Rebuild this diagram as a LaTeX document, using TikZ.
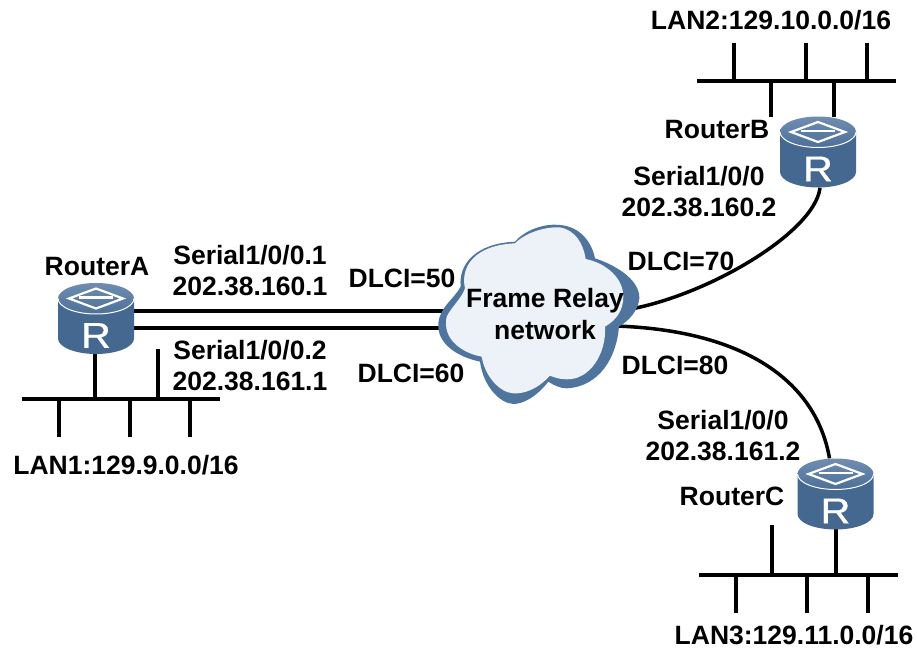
\documentclass[tikz,border=0pt]{standalone}
\usepackage{fontspec}
\setmainfont{Liberation Sans}
\newfontfamily\routerfont[FakeBold=0.6]{Liberation Sans}
\definecolor{rbody}{HTML}{44688F}
\definecolor{rtopa}{HTML}{6F8DB0}
\definecolor{rtopb}{HTML}{4D7098}
\definecolor{cloudd}{HTML}{4F759E}
\definecolor{cloudl}{HTML}{EDF2F9}
\tikzset{
  lbl/.style={font=\bfseries\fontsize{26.5}{31}\selectfont, align=center, inner sep=0pt, text=black},
  wire/.style={draw=black, line width=3.8pt},
  thin wire/.style={draw=black, line width=3.5pt},
  busbar/.style={fill=black, inner sep=0pt, minimum height=4pt},
  routerbox/.style={minimum width=76pt, minimum height=71pt, inner sep=0pt},
  cloudbox/.style={minimum width=200pt, minimum height=180pt, inner sep=0pt},
}
\newcommand{\drawrouter}[1]{%
  \begin{scope}[shift={(#1)}]
    \fill[rbody] (-38,-20) -- (-38,20) arc[start angle=180,end angle=0,x radius=38,y radius=15.5] -- (38,-20) -- cycle;
    \shade[top color=rtopa,bottom color=rtopb] (0,-20) ellipse[x radius=38,y radius=15.5];
    \draw[white,line width=1pt] (-38,-20) arc[start angle=180,end angle=0,x radius=38,y radius=15.5];
    \draw[white,line width=2.2pt] (-27,-20) -- (0,-30) -- (27,-20) -- (0,-10) -- cycle;
    \draw[white,line width=2.2pt] (-17,-21) -- (17,-21);
    \node[text=white,inner sep=0pt,xscale=1.15,font=\routerfont\fontsize{36}{36}\selectfont] at (0,17) {R};
  \end{scope}}
\begin{document}
\begin{tikzpicture}[x=1pt,y=-1pt]
\useasboundingbox (0,0) rectangle (917,647);
\node[routerbox] (routerA) at (96,318.5) {};
\node[routerbox] (routerB) at (818,152) {};
\node[routerbox] (routerC) at (835.5,494) {};
\node[cloudbox] (cloud) at (535,315) {};
\node[busbar,minimum width=198pt] (lan1) at (121,399) {};
\node[busbar,minimum width=199pt] (lan2) at (796.5,81) {};
\node[busbar,minimum width=199pt] (lan3) at (798.5,575) {};
% connectors
\draw[wire] ([yshift=7.5pt]routerA.east) -- ([yshift=4pt,xshift=12pt]cloud.west);
\draw[wire] ([yshift=-9.5pt]routerA.east) -- ([yshift=-13pt,xshift=12pt]cloud.west);
\draw[thin wire] ([xshift=2pt]routerB.south) .. controls +(-5,45) and +(80,-13) .. ([yshift=5pt,xshift=-10pt]cloud.east);
\draw[thin wire] ([xshift=-6pt]routerC.north) .. controls +(-14,-80) and +(125,4) .. ([yshift=-11pt,xshift=-20pt]cloud.east);
% LAN stubs
\foreach \d in {-62,9,69} \draw[thin wire] ([xshift=\d pt]lan1.center) -- ++(0,38);
\draw[thin wire] ([xshift=-26pt]lan1.center) -- ++(0,-46);
\draw[thin wire] ([xshift=37pt]lan1.center) -- ++(0,-50);
\foreach \d in {-62.5,9.5,70.5} \draw[thin wire] ([xshift=\d pt]lan2.center) -- ++(0,-38);
\foreach \d in {-25.5,37.5} \draw[thin wire] ([xshift=\d pt]lan2.center) -- ++(0,36);
\foreach \d in {-62.5,8.5,69.5} \draw[thin wire] ([xshift=\d pt]lan3.center) -- ++(0,38);
\draw[thin wire] ([xshift=-26.5pt]lan3.center) -- ++(0,-50);
\draw[thin wire] ([xshift=37.5pt]lan3.center) -- ++(0,-47);
% routers
\drawrouter{96,318.5}
\drawrouter{818,152}
\drawrouter{835.5,494}
% cloud
\begin{scope}[shift={(420,210)},x=0.3333pt,y=-0.3333pt]
\fill[cloudd] (55,340) .. controls (60,290) and (100,270) .. (122,230)
  .. controls (115,160) and (170,100) .. (285,95)
  .. controls (320,55) and (380,40) .. (420,45)
  .. controls (480,50) and (515,95) .. (525,145)
  .. controls (600,170) and (660,215) .. (658,265)
  .. controls (655,300) and (630,330) .. (597,350)
  .. controls (590,440) and (540,530) .. (440,535)
  .. controls (420,535) and (400,525) .. (385,515)
  .. controls (350,560) and (310,582) .. (280,582)
  .. controls (240,580) and (190,530) .. (180,455)
  .. controls (110,440) and (50,400) .. (55,340) -- cycle;
\fill[cloudl] (80,320) .. controls (95,290) and (125,265) .. (135,235)
  .. controls (120,170) and (165,105) .. (285,100)
  .. controls (320,65) and (380,50) .. (420,52)
  .. controls (465,60) and (490,100) .. (497,147)
  .. controls (560,160) and (610,205) .. (610,260)
  .. controls (610,300) and (590,330) .. (555,350)
  .. controls (560,430) and (510,510) .. (440,508)
  .. controls (420,508) and (405,503) .. (390,497)
  .. controls (350,540) and (310,552) .. (280,550)
  .. controls (240,548) and (195,500) .. (185,440)
  .. controls (130,430) and (65,390) .. (80,320) -- cycle;
\end{scope}
% labels
\node[lbl] (tcloud) at (545,314) {Frame Relay\\[1pt]network};
\node[lbl] (ta) at (97,267) {RouterA};
\node[lbl] (tb) at (717,130) {RouterB};
\node[lbl] (tc) at (732,496) {RouterC};
\node[lbl] (l1) at (126,465) {LAN1:129.9.0.0/16};
\node[lbl] (l2) at (771,20) {LAN2:129.10.0.0/16};
\node[lbl] (l3) at (794,635) {LAN3:129.11.0.0/16};
\node[lbl] (s1) at (250,271) {Serial1/0/0.1\\202.38.160.1};
\node[lbl] (s2) at (250,366) {Serial1/0/0.2\\202.38.161.1};
\node[lbl] (s3) at (699,192) {Serial1/0/0\\202.38.160.2};
\node[lbl] (s4) at (723,436) {Serial1/0/0\\202.38.161.2};
\node[lbl] (d1) at (402,278) {DLCI=50};
\node[lbl] (d2) at (411,373) {DLCI=60};
\node[lbl] (d3) at (681,261) {DLCI=70};
\node[lbl] (d4) at (675,365) {DLCI=80};
\end{tikzpicture}
\end{document}
